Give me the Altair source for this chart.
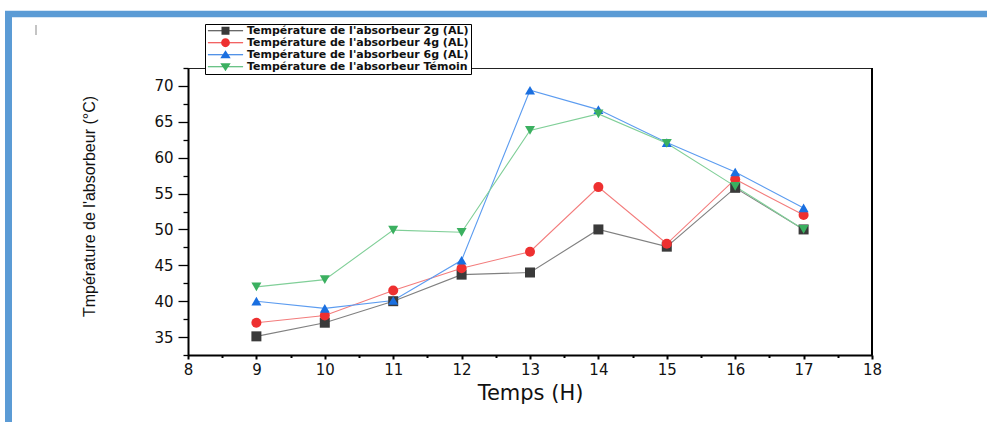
import altair as alt
import pandas as pd

hours = [9, 10, 11, 12, 13, 14, 15, 16, 17]
t_2g = [35.1, 37.0, 40.0, 43.7, 44.0, 50.0, 47.6, 55.8, 50.0]
t_4g = [37.0, 38.0, 41.5, 44.6, 46.9, 55.9, 48.0, 57.0, 52.0]
t_6g = [40.0, 39.0, 40.1, 45.7, 69.4, 66.7, 62.1, 58.0, 53.0]
t_temoin = [42.0, 43.0, 49.9, 49.6, 63.8, 66.1, 62.0, 56.0, 50.0]

series_names = [
    "Température de l'absorbeur 2g (AL)",
    "Température de l'absorbeur 4g (AL)",
    "Température de l'absorbeur 6g (AL)",
    "Température de l'absorbeur Témoin",
]
x_tick_values = [8 + 0.5 * i for i in range(21)]
y_tick_values = [32.5 + 2.5 * i for i in range(17)]

marker_colors = ["#3a3a3a", "#ee3030", "#1a6fe0", "#3bb060"]
line_colors = ["#808080", "#f37c7c", "#5c9cf0", "#80cf98"]
marker_shapes = ["square", "circle", "triangle-up", "triangle-down"]

LINE = "M-4.4,-0.13H4.4V0.13H-4.4Z "
legend_shapes = [
    LINE + "M-1,-1H1V1H-1Z",
    LINE + "M-1.1,0A1.1,1.1 0 1,1 1.1,0A1.1,1.1 0 1,1 -1.1,0Z",
    LINE + "M0,-1.1L1.3,0.9L-1.3,0.9Z",
    LINE + "M0,1.1L-1.3,-0.9L1.3,-0.9Z",
]

rows = []
for name, vals in zip(series_names, [t_2g, t_4g, t_6g, t_temoin]):
    for h, v in zip(hours, vals):
        rows.append({"hour": h, "temp": v, "series": name})
df = pd.DataFrame(rows)

W, H = 684, 287
FONT = "DejaVu Sans"

x_enc = alt.X(
    "hour:Q",
    scale=alt.Scale(domain=[8, 18], nice=False, zero=False),
    axis=alt.Axis(
        title="Temps (H)",
        values=x_tick_values,
        tickCount=21,
        labelExpr="datum.value % 1 === 0 ? '' + datum.value : ''",
        tickSize=alt.condition("datum.value % 1 === 0", alt.value(4), alt.value(2.5)),
        tickWidth=2,
        tickColor="black",
        domainColor="black",
        domainWidth=2,
        grid=False,
        labelFlush=False,
        labelOverlap=False,
        labelFont=FONT,
        labelFontSize=15,
        labelColor="#111111",
        labelPadding=3,
        titleFont=FONT,
        titleFontSize=21,
        titleFontWeight="normal",
        titleColor="#111111",
        titleY=38,
        titleBaseline="middle",
    ),
)
y_enc = alt.Y(
    "temp:Q",
    scale=alt.Scale(domain=[32.5, 72.5], nice=False, zero=False),
    axis=alt.Axis(
        title="Tmpérature de l'absorbeur (°C)",
        values=y_tick_values,
        tickCount=17,
        labelExpr="datum.value % 5 === 0 ? '' + datum.value : ''",
        tickSize=alt.condition("datum.value % 5 === 0", alt.value(10), alt.value(5)),
        tickWidth=1.3,
        tickColor="black",
        domainColor="black",
        domainWidth=2,
        grid=False,
        labelOverlap=False,
        labelFont=FONT,
        labelFontSize=15,
        labelColor="#111111",
        labelPadding=5,
        titleFont="Liberation Sans",
        titleFontSize=16,
        titleFontWeight="normal",
        titleColor="#111111",
        titleX=-99,
        titleY=138,
        titleAngle=-90,
        titleBaseline="middle",
        titleAlign="center",
    ),
)

base = alt.Chart(df)

lines = base.mark_line(strokeWidth=1.1).encode(
    x=x_enc,
    y=y_enc,
    color=alt.Color("series:N", scale=alt.Scale(domain=series_names, range=line_colors), legend=None),
    detail="series:N",
)

points = base.mark_point(filled=True, opacity=1, size=100).encode(
    x="hour:Q",
    y="temp:Q",
    fill=alt.Fill("series:N", scale=alt.Scale(domain=series_names, range=marker_colors), legend=None),
    shape=alt.Shape("series:N", scale=alt.Scale(domain=series_names, range=marker_shapes), legend=None),
)

legend_props = dict(
    title=None,
    orient="none",
    legendX=17,
    legendY=-44,
    strokeColor="black",
    fillColor="white",
    padding=2,
    symbolSize=64,
    clipHeight=9.5,
    symbolOffset=13,
    labelOffset=16,
    rowPadding=0,
    labelFont=FONT,
    labelFontSize=11,
    labelFontWeight="bold",
    labelColor="#111111",
    labelLimit=400,
)

legend_layer = base.transform_filter("datum.temp > 1000").mark_point(
    filled=True, opacity=1, size=64, strokeWidth=0
).encode(
    fill=alt.Fill(
        "series:N",
        scale=alt.Scale(domain=series_names, range=marker_colors),
        legend=alt.Legend(**legend_props),
    ),
    shape=alt.Shape(
        "series:N",
        scale=alt.Scale(domain=series_names, range=legend_shapes),
        legend=alt.Legend(**legend_props),
    ),
)

one = alt.Chart(pd.DataFrame({"k": [0]}))
right_edge = one.mark_rule(color="black", strokeWidth=2).encode(
    x=alt.datum(18), y=alt.datum(32.5), y2=alt.datum(72.5)
)
top_bar = one.mark_rule(color="#5b9bd5", strokeWidth=6.5).encode(
    x=alt.value(-183), x2=alt.value(799), y=alt.value(-54)
)
left_bar = one.mark_rule(color="#5b9bd5", strokeWidth=7).encode(
    x=alt.value(-179.5), y=alt.value(-57), y2=alt.value(354)
)
gray_tick = one.mark_rule(color="#c4c4c4", strokeWidth=2).encode(
    x=alt.value(-152), y=alt.value(-43), y2=alt.value(-33)
)

chart = (
    alt.layer(lines, points, legend_layer, right_edge, top_bar, left_bar, gray_tick)
    .resolve_scale(fill="independent", shape="independent")
    .properties(
        width=W,
        height=H,
        autosize=alt.AutoSizeParams(type="none"),
        padding={"left": 188, "top": 68, "right": 115, "bottom": 67},
        background="white",
    )
    .configure_view(stroke="#222222", strokeWidth=1)
)

chart.save("out.html", embed_options={"renderer": "svg", "actions": False})
